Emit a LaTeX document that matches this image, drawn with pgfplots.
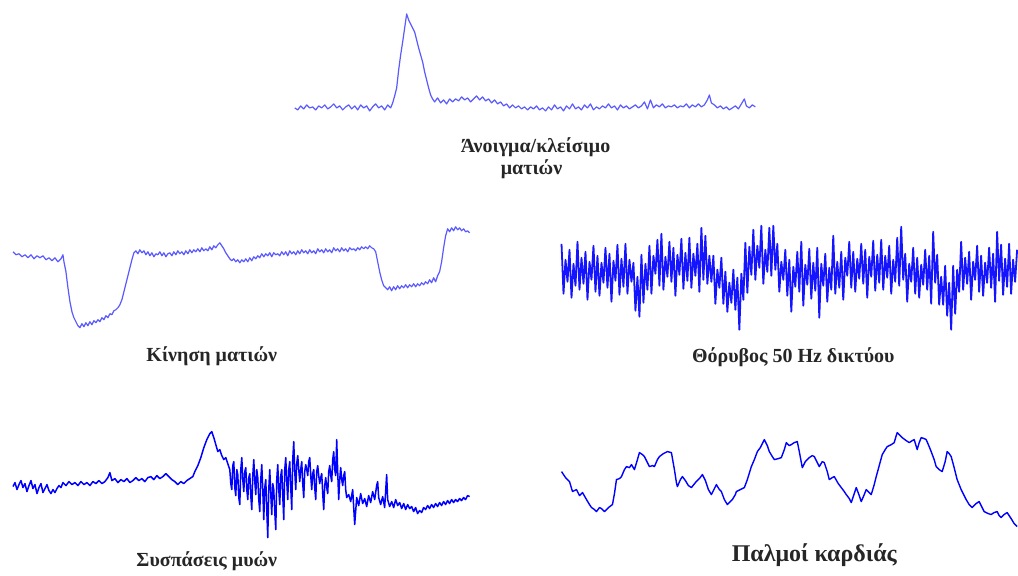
\documentclass[border=0pt]{standalone}
\usepackage{fontspec}
\setmainfont{Liberation Serif}
\usepackage{pgfplots}
\pgfplotsset{compat=1.18}
\tikzset{lbl/.style={anchor=base, font=\bfseries\fontsize{20}{23}\selectfont, text=black!85}}

% signal traces are given in picture units (x to the right, y downwards)
\begin{document}
\begin{tikzpicture}
\begin{axis}[
  scale only axis, width=1018pt, height=576pt,
  xmin=0, xmax=1018, ymin=0, ymax=576, y dir=reverse,
  axis lines=none, clip=false,
  every axis plot/.append style={line join=round, mark=none},
]
\path (axis cs:0,0) rectangle (axis cs:1018,576);

% Eye blink
\addplot[color={rgb,255:red,90;green,90;blue,255}, line width=1.2pt] coordinates {
(295,108)(298,110)(301,106)(304,109)(307,105)(310,108)(313,107)(316,110)(319,106)(322,108)(325,105)(328,109)(331,107)(334,104)(337,108)(340,106)(343,110)(346,107)(349,105)(352,109)(355,106)(358,110)(361,105)(364,108)(367,106)(370,111)(373,107)(376,104)(379,108)(382,106)(385,110)(388,105)(391,108)(393,103)(395,96)(397,88)(399,70)(401,55)(403,42)(405,28)(407,14)(409,20)(411,24)(413,28)(415,32)(417,40)(419,48)(421,55)(423,62)(425,72)(427,80)(429,88)(431,95)(433,99)(435,102)(438,98)(441,103)(444,100)(447,104)(450,99)(453,102)(456,99)(459,101)(462,97)(465,100)(468,98)(471,102)(474,99)(477,96)(480,100)(483,97)(486,101)(489,99)(492,103)(495,100)(498,104)(501,102)(504,106)(507,104)(510,108)(513,105)(516,108)(519,106)(522,109)(525,107)(528,110)(531,107)(534,109)(537,106)(540,110)(543,108)(546,111)(549,107)(552,110)(555,105)(558,109)(561,107)(564,111)(567,106)(570,109)(573,104)(576,109)(579,107)(582,110)(585,105)(588,108)(591,104)(594,110)(597,107)(600,109)(603,106)(606,108)(609,104)(612,108)(615,106)(618,110)(621,105)(624,108)(627,106)(630,109)(633,107)(636,105)(639,108)(642,106)(645,102)(648,109)(651,100)(654,108)(657,105)(660,107)(663,104)(666,108)(669,106)(672,107)(675,105)(678,108)(681,106)(684,107)(687,104)(690,108)(693,105)(696,107)(699,104)(702,107)(705,105)(708,100)(710,95)(712,103)(715,105)(718,108)(721,106)(724,109)(727,107)(730,110)(733,108)(736,106)(739,109)(742,104)(745,99)(747,106)(750,108)(753,105)(756,107)
};

% Eye movement
\addplot[color={rgb,255:red,90;green,90;blue,255}, line width=1.2pt] coordinates {
(13,252)(16,255)(19,254)(22,257)(25,255)(28,258)(31,255)(34,259)(37,256)(40,258)(43,256)(46,260)(49,258)(52,261)(55,258)(58,262)(61,259)(63,255)(64,262)(66,272)(68,288)(70,302)(72,312)(74,318)(76,322)(78,326)(80,328)(82,324)(84,327)(86,323)(88,326)(90,322)(92,325)(94,321)(96,323)(98,320)(100,322)(102,318)(104,320)(106,316)(108,318)(110,314)(112,315)(114,311)(116,310)(118,308)(120,305)(122,300)(124,292)(126,284)(128,276)(130,268)(132,260)(134,253)(136,251)(138,254)(140,250)(142,253)(144,251)(146,255)(148,252)(150,256)(152,253)(154,257)(156,254)(158,255)(160,252)(162,256)(164,253)(166,257)(168,254)(170,253)(172,256)(174,252)(176,255)(178,251)(180,254)(182,252)(184,255)(186,251)(188,254)(190,250)(192,253)(194,250)(196,252)(198,249)(200,252)(202,248)(204,251)(206,249)(208,251)(210,247)(212,250)(214,246)(216,248)(218,245)(220,243)(222,246)(224,249)(226,253)(228,256)(230,259)(232,261)(234,259)(236,262)(238,260)(240,263)(242,260)(244,262)(246,259)(248,262)(250,258)(252,261)(254,257)(256,259)(258,256)(260,258)(262,254)(264,257)(266,254)(268,256)(270,253)(272,257)(274,253)(276,255)(278,254)(280,256)(282,252)(284,255)(286,252)(288,256)(290,251)(292,254)(294,252)(296,255)(298,251)(300,254)(302,250)(304,253)(306,251)(308,254)(310,250)(312,253)(314,251)(316,254)(318,249)(320,252)(322,250)(324,253)(326,249)(328,252)(330,250)(332,253)(334,248)(336,251)(338,249)(340,252)(342,248)(344,251)(346,249)(348,252)(350,248)(352,250)(354,249)(356,251)(358,248)(360,250)(362,247)(364,249)(366,247)(368,249)(370,246)(372,248)(374,249)(376,252)(378,262)(380,272)(382,280)(384,286)(386,288)(388,290)(390,287)(392,291)(394,287)(396,290)(398,286)(400,289)(402,286)(404,288)(406,285)(408,288)(410,285)(412,287)(414,284)(416,287)(418,284)(420,286)(422,283)(424,285)(426,282)(428,284)(430,280)(432,283)(434,278)(436,282)(438,276)(440,272)(442,262)(444,248)(446,236)(448,229)(450,232)(452,228)(454,231)(456,227)(458,230)(460,228)(462,231)(464,229)(466,232)(468,231)(470,233)
};

% 50 Hz mains noise
\addplot[color={rgb,255:red,20;green,20;blue,255}, line width=1.8pt] coordinates {
(562,244)(564,294)(566,260)(568,282)(570,250)(572,298)(574,264)(576,286)(578,242)(580,290)(582,258)(584,284)(586,252)(588,300)(590,262)(592,280)(594,246)(596,292)(598,256)(600,296)(602,263)(604,283)(606,248)(608,288)(610,254)(612,302)(614,261)(616,281)(618,245)(620,295)(622,259)(624,287)(626,244)(628,294)(630,260)(632,282)(634,263)(636,311)(638,277)(640,317)(642,255)(644,303)(646,264)(648,290)(650,246)(652,294)(654,256)(656,274)(658,240)(660,286)(662,234)(664,290)(666,257)(668,277)(670,242)(672,282)(674,248)(676,296)(678,255)(680,275)(682,239)(684,289)(686,253)(688,281)(690,238)(692,288)(694,254)(696,276)(698,244)(700,292)(702,228)(704,280)(706,236)(708,284)(710,256)(712,282)(714,256)(716,304)(718,270)(720,288)(722,258)(724,304)(726,272)(728,312)(730,283)(732,303)(734,270)(736,310)(738,278)(740,330)(742,274)(744,300)(746,243)(748,293)(750,247)(752,275)(754,230)(756,280)(758,246)(760,268)(762,226)(764,284)(766,250)(768,272)(770,228)(772,276)(774,226)(776,270)(778,244)(780,292)(782,262)(784,280)(786,250)(788,296)(790,260)(792,312)(794,267)(796,287)(798,252)(800,292)(802,242)(804,306)(806,265)(808,285)(810,249)(812,299)(814,263)(816,291)(818,248)(820,318)(822,264)(824,286)(826,254)(828,302)(830,268)(832,290)(834,236)(836,294)(838,262)(840,288)(842,252)(844,300)(846,258)(848,276)(850,242)(852,288)(854,252)(856,292)(858,259)(860,279)(862,244)(864,284)(866,250)(868,298)(870,257)(872,277)(874,241)(876,291)(878,255)(880,283)(882,240)(884,290)(886,256)(888,278)(890,246)(892,294)(894,260)(896,282)(898,238)(900,286)(902,227)(904,280)(906,254)(908,302)(910,264)(912,282)(914,248)(916,294)(918,258)(920,298)(922,265)(924,285)(926,250)(928,290)(930,256)(932,304)(934,232)(936,283)(938,255)(940,305)(942,277)(944,305)(946,266)(948,316)(950,283)(952,330)(954,266)(956,314)(958,270)(960,292)(962,242)(964,290)(966,258)(968,284)(970,252)(972,300)(974,262)(976,280)(978,246)(980,292)(982,256)(984,296)(986,263)(988,283)(990,248)(992,288)(994,254)(996,302)(998,232)(1000,281)(1002,245)(1004,295)(1006,259)(1008,287)(1010,244)(1012,294)(1014,260)(1016,282)(1018,250)
};

% Muscle contractions
\addplot[color={rgb,255:red,0;green,0;blue,255}, line width=1.5pt] coordinates {
(13,487)(15,483)(17,490)(19,485)(21,481)(23,488)(25,484)(27,492)(29,486)(31,481)(33,489)(35,485)(37,494)(39,488)(41,484)(43,493)(45,489)(47,485)(49,491)(51,494)(53,490)(55,493)(57,489)(59,486)(61,488)(63,483)(66,486)(69,482)(72,485)(75,483)(78,486)(81,482)(84,485)(87,483)(90,486)(93,482)(96,484)(99,481)(102,484)(105,482)(108,478)(110,473)(112,481)(115,479)(118,483)(121,480)(124,482)(127,479)(130,483)(133,481)(136,478)(139,481)(142,479)(145,482)(148,478)(151,477)(154,480)(157,476)(160,479)(163,477)(166,474)(169,477)(172,480)(175,482)(178,485)(181,482)(184,484)(187,481)(190,479)(193,477)(195,472)(198,466)(201,458)(204,448)(207,440)(210,434)(212,432)(214,438)(216,445)(218,452)(220,450)(222,456)(224,460)(226,458)(228,464)
(230,470)(231,484)(232,490)(233,466)(234,462)(235,488)(236,496)(237,470)(238,475)(239,498)(240,505)(241,470)(242,458)(243,480)(244,492)(245,472)(246,468)(247,490)(248,500)(249,478)(250,474)(251,496)(252,510)(253,476)(254,460)(255,482)(256,495)(257,470)(258,478)(259,500)(260,512)(261,480)(262,465)(263,490)(264,520)(265,488)(266,480)(267,510)(268,538)(269,490)(270,470)(271,494)(272,515)(273,484)(274,490)(275,512)(276,530)(277,480)(278,465)(279,490)(280,505)(281,476)(282,470)(283,496)(284,520)(285,470)(286,458)(287,482)(288,500)(289,470)(290,462)(291,488)(292,510)(293,460)(294,442)(295,472)(296,490)(297,464)(298,456)(299,470)(300,482)(301,470)(302,462)(303,484)(304,498)(305,472)(306,465)(307,470)(308,476)(309,462)(310,458)(311,476)(312,490)(313,474)(314,470)(315,488)(316,500)(317,472)(318,466)(319,476)(320,484)(321,478)(322,474)(323,494)(324,510)(325,486)(326,478)(327,488)(328,494)(329,472)(330,466)(331,476)(332,482)(333,460)(334,452)(335,470)(336,476)(337,440)(338,472)(339,500)(340,480)(341,468)(342,480)(343,486)(344,476)(345,472)(346,490)(347,498)
(349,495)(351,502)(353,490)(355,525)(357,498)(359,506)(361,494)(363,504)(365,499)(367,507)(369,496)(371,503)(373,492)(375,500)(377,486)(378,482)(379,498)(381,505)(383,497)(385,508)(387,475)(388,500)(390,507)(392,502)(394,508)(396,500)(398,506)(400,503)(402,509)(404,504)(406,510)(408,505)(410,509)(412,507)(414,512)(416,508)(418,514)(420,511)(422,513)(424,508)(426,510)(428,506)(430,509)(432,505)(434,508)(436,504)(438,507)(440,503)(442,506)(444,502)(446,505)(448,501)(450,504)(452,500)(454,503)(456,500)(458,502)(460,499)(462,501)(464,498)(466,500)(468,496)(470,497)
};

% Heartbeat
\addplot[color={rgb,255:red,0;green,0;blue,255}, line width=1.4pt] coordinates {
(562,472)(566,478)(570,482)(573,492)(577,490)(580,496)(583,493)(587,500)(590,505)(592,508)(595,510)(597,512)(600,508)(602,509)(605,512)(609,508)(613,505)(615,494)(617,480)(620,479)(622,477)(625,470)(627,467)(630,468)(632,465)(635,470)(638,460)(640,453)(643,455)(645,457)(648,463)(650,467)(653,466)(655,467)(658,460)(660,457)(664,454)(668,452)(672,453)(675,470)(677,483)(678,487)(681,480)(683,477)(686,481)(689,486)(692,488)(696,483)(700,479)(703,475)(706,481)(709,490)(712,495)(715,489)(717,485)(720,490)(722,492)(725,500)(728,505)(731,502)(733,500)(736,495)(737,492)(741,490)(745,488)(748,480)(752,467)(755,460)(758,452)(761,448)(765,440)(768,446)(770,452)(773,457)(775,460)(779,459)(782,458)(785,450)(787,443)(790,446)(792,445)(795,443)(798,442)(800,452)(803,468)(806,462)(810,458)(813,456)(815,457)(818,463)(820,467)(823,462)(825,463)(828,472)(830,480)(833,478)(835,477)(839,484)(842,488)(845,492)(847,495)(850,499)(852,503)(855,494)(857,488)(860,496)(862,502)(865,495)(867,490)(870,493)(872,495)(875,485)(877,477)(880,466)(883,455)(886,450)(888,447)(892,445)(895,443)(897,436)(898,433)(901,436)(903,438)(907,441)(910,443)(913,441)(915,440)(918,450)(920,443)(922,438)(925,439)(927,440)(930,447)(932,452)(935,460)(937,467)(940,470)(943,472)(946,462)(948,452)(950,454)(952,457)(955,468)(958,480)(962,490)(967,500)(970,505)(973,508)(977,504)(980,502)(983,508)(985,512)(989,514)(992,515)(995,513)(998,512)(1000,516)(1002,518)(1005,515)(1008,513)(1012,519)(1015,524)(1018,527)
};

\node[lbl] at (axis cs:536,153) {Άνοιγμα/κλείσιμο};
\node[lbl] at (axis cs:532,175) {ματιών};
\node[lbl] at (axis cs:212,362) {Κίνηση ματιών};
\node[lbl] at (axis cs:794,363) {Θόρυβος 50 Hz δικτύου};
\node[lbl] at (axis cs:207,567) {Συσπάσεις μυών};
\node[lbl, font=\bfseries\fontsize{24}{28}\selectfont] at (axis cs:815,562) {Παλμοί καρδιάς};
\end{axis}
\end{tikzpicture}
\end{document}
